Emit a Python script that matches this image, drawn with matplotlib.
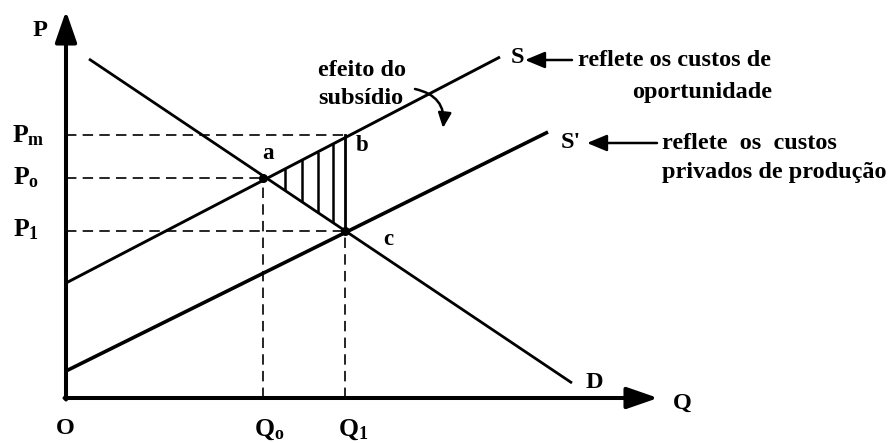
import numpy as np
import matplotlib
matplotlib.use("Agg")
import matplotlib.pyplot as plt
from matplotlib.patches import FancyArrowPatch

plt.rcParams['font.family'] = ['Liberation Serif', 'DejaVu Serif']
plt.rcParams['font.weight'] = 'bold'
plt.rcParams['mathtext.fontset'] = 'custom'
plt.rcParams['mathtext.rm'] = 'Liberation Serif:bold'
plt.rcParams['mathtext.it'] = 'Liberation Serif:bold'
plt.rcParams['lines.scale_dashes'] = False

# ---- curvas (Q, P) ----
demanda_q = [23, 506]
demanda_p = [339, 15]
oferta_s_q = [0, 434]
oferta_s_p = [115, 341]
oferta_s2_q = [0, 482]
oferta_s2_p = [27, 266]

# ---- pontos de referencia ----
Q0, Q1 = 197, 279
Pm, Po, P1 = 263, 220, 167
hachura_q = [219, 236, 252, 267]

fig = plt.figure(figsize=(8.9, 4.43), dpi=100)
ax = fig.add_axes([0, 0, 1, 1])
ax.set_xlim(-66, 824)
ax.set_ylim(-45, 398)
ax.axis('off')

# eixos
eixo = dict(arrowstyle='-|>,head_length=0.95,head_width=0.33', color='k', lw=2.9,
            shrinkA=0, shrinkB=0, mutation_scale=20)
ax.annotate('', xy=(0, 387), xytext=(0, -1.5), arrowprops=eixo)
ax.annotate('', xy=(592, 0), xytext=(-1.5, 0), arrowprops=eixo)

# curvas
ax.plot(demanda_q, demanda_p, color='k', lw=2.0, solid_capstyle='butt')
ax.plot(oferta_s_q, oferta_s_p, color='k', lw=2.1, solid_capstyle='butt')
ax.plot(oferta_s2_q, oferta_s2_p, color='k', lw=2.6, solid_capstyle='butt')

# linhas tracejadas
tr = dict(color='k', lw=1.2, linestyle=(0, (7.5, 4.5)))
ax.plot([0, Q1], [Pm, Pm], **tr)
ax.plot([0, Q0], [Po, Po], **tr)
ax.plot([0, Q1], [P1, P1], **tr)
ax.plot([Q0, Q0], [0, Po], **tr)
ax.plot([Q1, Q1], [0, P1], **tr)

# area hachurada (efeito do subsidio)
topo = np.interp(hachura_q, oferta_s_q, oferta_s_p)
base = np.interp(hachura_q, demanda_q, demanda_p)
ax.vlines(hachura_q, base, topo, color='k', lw=1.8)
ax.plot([Q1, Q1], [P1, Pm], color='k', lw=2.0)

ax.plot([Q0, Q1], [Po, P1], 'o', color='k', ms=5.5)

fs = 17.5
ax.text(-26, 368, 'P', fontsize=fs, ha='center', va='center')
ax.text(-38, 262, r'$\mathrm{P_m}$', fontsize=fs + 1, ha='center', va='center')
ax.text(-40, 220, r'$\mathrm{P_o}$', fontsize=fs + 1, ha='center', va='center')
ax.text(-40, 168, r'$\mathrm{P_1}$', fontsize=fs + 1, ha='center', va='center')
ax.text(-1, -31, 'O', fontsize=fs, ha='center', va='center')
ax.text(Q0 + 6, -32, r'$\mathrm{Q_o}$', fontsize=fs + 1, ha='center', va='center')
ax.text(Q1 + 8, -32, r'$\mathrm{Q_1}$', fontsize=fs + 1, ha='center', va='center')
ax.text(616, -5, 'Q', fontsize=fs, ha='center', va='center')
ax.text(528, 16, 'D', fontsize=fs, ha='center', va='center')
ax.text(451, 341, 'S', fontsize=fs, ha='center', va='center')
ax.text(505, 256, "S'", fontsize=fs, ha='center', va='center')
ax.text(202, 245, 'a', fontsize=fs - 1, ha='center', va='center')
ax.text(296, 253, 'b', fontsize=fs - 1, ha='center', va='center')
ax.text(322, 159, 'c', fontsize=fs - 1, ha='center', va='center')

# setas das legendas
seta = dict(arrowstyle='-|>,head_length=1.2,head_width=0.5', color='k', lw=1.8,
            shrinkA=0, shrinkB=0, mutation_scale=10)
ax.annotate('', xy=(459, 338), xytext=(506, 338), arrowprops=seta)
ax.annotate('', xy=(521, 255), xytext=(591, 255), arrowprops=seta)

ax.text(512, 338, 'reflete os custos de', fontsize=fs, ha='left', va='center')
ax.text(636, 306, 'oportunidade', fontsize=fs, ha='center', va='center')
ax.text(596, 255, 'reflete  os  custos', fontsize=fs, ha='left', va='center')
ax.text(596, 226, 'privados de produção', fontsize=fs, ha='left', va='center')

ax.text(252, 328, 'efeito do', fontsize=fs, ha='left', va='center')
ax.text(252, 300, 'subsídio', fontsize=fs, ha='left', va='center')
curva = FancyArrowPatch((349, 309), (377, 270), connectionstyle='arc3,rad=-0.45',
                        arrowstyle='-|>,head_length=0.9,head_width=0.4',
                        mutation_scale=10, color='k', lw=1.8, shrinkA=0, shrinkB=0)
ax.add_patch(curva)

fig.savefig('out.png', dpi=100, facecolor='white')
